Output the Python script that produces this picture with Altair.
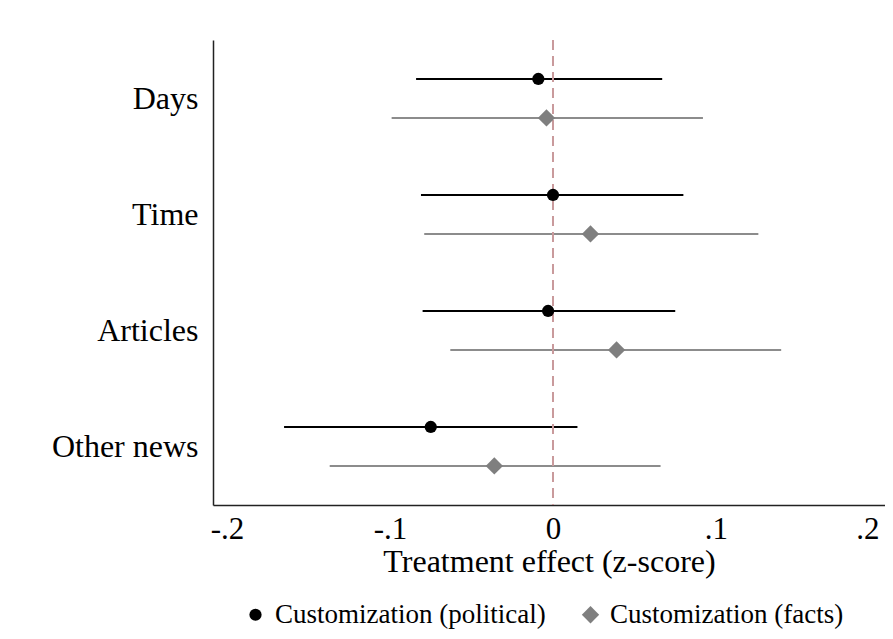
import altair as alt
import pandas as pd

categories = ["Days", "Time", "Articles", "Other news"]
series_names = ["Customization (political)", "Customization (facts)"]

pol_est = [-0.009, 0.000, -0.003, -0.075]
pol_lo = [-0.084, -0.081, -0.080, -0.165]
pol_hi = [0.067, 0.080, 0.075, 0.015]

fac_est = [-0.004, 0.023, 0.039, -0.036]
fac_lo = [-0.099, -0.079, -0.063, -0.137]
fac_hi = [0.092, 0.126, 0.140, 0.066]

x_ticks = [-0.2, -0.1, 0.0, 0.1, 0.2]

# layout offsets (row position within each category group)
OFF = [0.336, 0.672]
rows = []
for i, cat in enumerate(categories):
    for s, (est, lo, hi) in enumerate([(pol_est, pol_lo, pol_hi), (fac_est, fac_lo, fac_hi)]):
        rows.append({
            "category": cat,
            "series": series_names[s],
            "pos": i + OFF[s],
            "est": est[i],
            "lo": lo[i],
            "hi": hi[i],
        })
df = pd.DataFrame(rows)

FONT = "Liberation Serif"
PLOT_W, PLOT_H = 672, 465

xscale = alt.Scale(domain=[-0.2086, 0.2037], nice=False, zero=False)
yscale = alt.Scale(domain=[0, PLOT_H / 116], reverse=True, nice=False, zero=False)

label_vals = [i + (OFF[0] + OFF[1]) / 2 for i in range(len(categories))]
cat_js = "[" + ",".join("'" + c + "'" for c in categories) + "]"

xaxis = alt.Axis(
    values=x_ticks,
    labelExpr="datum.value == 0 ? '0' : (datum.value < 0 ? '-' : '') + replace(format(abs(datum.value), '.1f'), '0.', '.')",
    ticks=False, grid=False, domainColor="#222222", domainWidth=1.5,
    labelFont=FONT, labelFontSize=31, labelColor="black", labelPadding=9,
    labelFlush=10,
    title="Treatment effect (z-score)", titleFont=FONT, titleFontSize=32,
    titleFontWeight="normal", titleColor="black", titlePadding=2,
)
yaxis = alt.Axis(
    values=label_vals,
    labelExpr=cat_js + "[floor(datum.value)]",
    ticks=False, grid=False, domainColor="#222222", domainWidth=1.5,
    labelFont=FONT, labelFontSize=32, labelColor="black", labelPadding=15,
    title=None,
)

base = alt.Chart(df)

rules_pol = base.transform_filter(alt.datum.series == series_names[0]).mark_rule(
    color="black", strokeWidth=2
).encode(
    x=alt.X("lo:Q", scale=xscale, axis=xaxis),
    x2="hi:Q",
    y=alt.Y("pos:Q", scale=yscale, axis=yaxis),
)
rules_fac = base.transform_filter(alt.datum.series == series_names[1]).mark_rule(
    color="#8c8c8c", strokeWidth=2
).encode(
    x=alt.X("lo:Q", scale=xscale, axis=xaxis),
    x2="hi:Q",
    y=alt.Y("pos:Q", scale=yscale, axis=yaxis),
)

zero = alt.Chart(pd.DataFrame({"z": [0.0]})).mark_rule(
    color="#c99a9c", strokeWidth=2, strokeDash=[10, 6]
).encode(x=alt.X("z:Q", scale=xscale, axis=xaxis))

legend = alt.Legend(
    title=None, orient="none", legendX=29, legendY=561, direction="horizontal",
    labelFont=FONT, labelFontSize=27, labelColor="black", labelOffset=6,
    labelLimit=0, symbolStrokeWidth=0, columnPadding=31,
)

points = base.mark_point(filled=True, opacity=1, strokeWidth=0).encode(
    x=alt.X("est:Q", scale=xscale, axis=xaxis),
    y=alt.Y("pos:Q", scale=yscale, axis=yaxis),
    color=alt.Color("series:N", scale=alt.Scale(domain=series_names, range=["black", "#7f7f7f"]), legend=legend),
    shape=alt.Shape("series:N", scale=alt.Scale(domain=series_names, range=["circle", "diamond"]), legend=legend),
    size=alt.Size("series:N", scale=alt.Scale(domain=series_names, range=[150, 300]), legend=None),
)

chart = alt.layer(rules_pol, rules_fac, zero, points).properties(
    width=PLOT_W,
    height=PLOT_H,
    autosize=alt.AutoSizeParams(type="none"),
    padding={"left": 205, "top": 32, "right": 0, "bottom": 126},
).configure_view(stroke=None)

chart.save("out.html", embed_options={"renderer": "svg", "actions": False})
